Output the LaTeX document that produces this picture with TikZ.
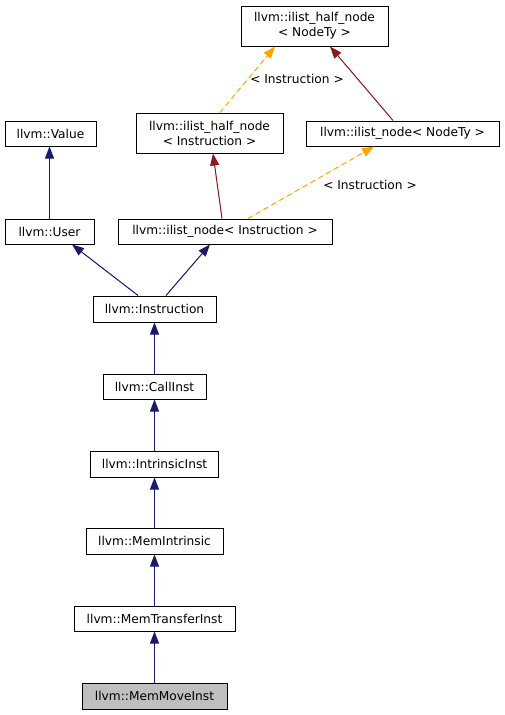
\documentclass[tikz,border=0pt]{standalone}
\usepackage{fontspec}
\setmainfont{DejaVu Sans}
\usetikzlibrary{arrows.meta}
\definecolor{navy}{HTML}{191970}
\definecolor{dred}{HTML}{8B1A1A}
\definecolor{orng}{HTML}{FFA500}
\definecolor{grayfill}{HTML}{BFBFBF}
\begin{document}
\begin{tikzpicture}[x=1pt,y=-1pt,
  cls/.style={draw=black,line width=1pt,fill=white,inner sep=0pt,align=center,
    font=\fontsize{12.2}{15}\selectfont},
  lbl/.style={inner sep=0pt,font=\fontsize{12.2}{15}\selectfont},
  pub/.style={draw=navy,line width=1pt,-{Triangle[length=12pt,width=9pt]},fill=navy},
  priv/.style={draw=dred,line width=1pt,-{Triangle[length=12pt,width=9pt]},fill=dred},
  tmpl/.style={draw=orng,line width=1pt,dash pattern=on 5pt off 4pt,-{Triangle[length=12pt,width=9pt]},fill=orng}]
\useasboundingbox (0,0) rectangle (504,715);
\node[cls,minimum width=147pt,minimum height=40pt] (hnT) at (314.5,26) {llvm::ilist\_half\_node\\< NodeTy >};
\node[cls,minimum width=91pt,minimum height=25pt] (val) at (50.5,133.5) {llvm::Value};
\node[cls,minimum width=147pt,minimum height=40pt] (hnI) at (209.5,133) {llvm::ilist\_half\_node\\< Instruction >};
\node[cls,minimum width=193pt,minimum height=25pt] (nT) at (402.5,133.5) {llvm::ilist\_node< NodeTy >};
\node[cls,minimum width=89pt,minimum height=25pt] (user) at (49.5,231.5) {llvm::User};
\node[cls,minimum width=214pt,minimum height=25pt] (nI) at (225,231.5) {llvm::ilist\_node< Instruction >};
\node[cls,minimum width=123pt,minimum height=26pt] (inst) at (154.5,309) {llvm::Instruction};
\node[cls,minimum width=103pt,minimum height=25pt] (call) at (154.5,386.5) {llvm::CallInst};
\node[cls,minimum width=128pt,minimum height=26pt] (intr) at (154.5,464) {llvm::IntrinsicInst};
\node[cls,minimum width=137pt,minimum height=26pt] (memi) at (154.5,541) {llvm::MemIntrinsic};
\node[cls,minimum width=161pt,minimum height=25pt] (mti) at (154.5,618.5) {llvm::MemTransferInst};
\node[cls,fill=grayfill,minimum width=145pt,minimum height=26pt] (mmi) at (154.5,696) {llvm::MemMoveInst};
\node[lbl] (lab1) at (297,79) {< Instruction >};
\node[lbl] (lab2) at (370,185) {< Instruction >};
\draw[pub] (user.north) -- (user.north |- val.south);
\draw[pub] ([xshift=-16.5pt]inst.north) -- ([xshift=22.5pt]user.south);
\draw[pub] ([xshift=11.5pt]inst.north) -- ([xshift=-15pt]nI.south);
\draw[priv] ([xshift=-3pt]nI.north) -- ([xshift=3.5pt]hnI.south);
\draw[tmpl] ([xshift=23pt]nI.north) -- ([xshift=-28.5pt]nT.south);
\draw[tmpl] ([xshift=10.5pt]hnI.north) -- ([xshift=-39.5pt]hnT.south);
\draw[priv] ([xshift=-9.5pt]nT.north) -- ([xshift=15.5pt]hnT.south);
\draw[pub] (call.north) -- (inst.south);
\draw[pub] (intr.north) -- (call.south);
\draw[pub] (memi.north) -- (intr.south);
\draw[pub] (mti.north) -- (memi.south);
\draw[pub] (mmi.north) -- (mti.south);
\end{tikzpicture}
\end{document}
